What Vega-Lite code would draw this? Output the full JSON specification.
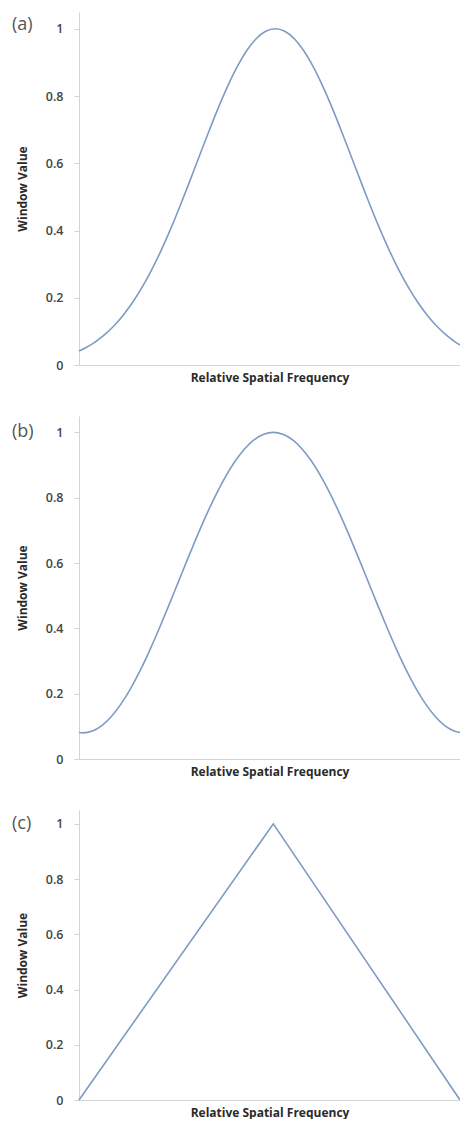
{
  "$schema": "https://vega.github.io/schema/vega-lite/v6.json",
  "background": "white",
  "padding": {"left": 12, "top": 12, "right": 0, "bottom": 1},
  "spacing": 33,
  "config": {
    "view": {"stroke": null},
    "font": "Open Sans",
    "axis": {
      "grid": false,
      "domainColor": "#d4d4d4",
      "tickColor": "#d4d4d4",
      "labelColor": "#444444",
      "titleColor": "#2a2a2a",
      "labelFont": "Open Sans",
      "titleFont": "Open Sans",
      "labelFontSize": 12.5,
      "labelFontWeight": 600,
      "titleFontSize": 12,
      "titleFontWeight": "bold"
    },
    "line": {"color": "#7d9bc4", "strokeWidth": 1.6, "clip": true},
    "text": {"align": "left", "baseline": "middle", "dx": -67, "fontSize": 18, "color": "#555555", "font": "Open Sans"}
  },
  "datasets": {
    "gauss": [
      {"f": -1.03, "w": 0.0415}, {"f": -1.0, "w": 0.0498}, {"f": -0.95, "w": 0.0667}, {"f": -0.9, "w": 0.088},
      {"f": -0.85, "w": 0.1145}, {"f": -0.8, "w": 0.1466}, {"f": -0.75, "w": 0.185}, {"f": -0.7, "w": 0.2299},
      {"f": -0.65, "w": 0.2815}, {"f": -0.6, "w": 0.3396}, {"f": -0.55, "w": 0.4035}, {"f": -0.5, "w": 0.4724},
      {"f": -0.45, "w": 0.5447}, {"f": -0.4, "w": 0.6188}, {"f": -0.35, "w": 0.6925}, {"f": -0.3, "w": 0.7634},
      {"f": -0.25, "w": 0.829}, {"f": -0.2, "w": 0.8869}, {"f": -0.15, "w": 0.9347}, {"f": -0.1, "w": 0.9704},
      {"f": -0.05, "w": 0.9925}, {"f": 0, "w": 1},
      {"f": 0.05, "w": 0.9925}, {"f": 0.1, "w": 0.9704}, {"f": 0.15, "w": 0.9347}, {"f": 0.2, "w": 0.8869},
      {"f": 0.25, "w": 0.829}, {"f": 0.3, "w": 0.7634}, {"f": 0.35, "w": 0.6925}, {"f": 0.4, "w": 0.6188},
      {"f": 0.45, "w": 0.5447}, {"f": 0.5, "w": 0.4724}, {"f": 0.55, "w": 0.4035}, {"f": 0.6, "w": 0.3396},
      {"f": 0.65, "w": 0.2815}, {"f": 0.7, "w": 0.2299}, {"f": 0.75, "w": 0.185}, {"f": 0.8, "w": 0.1466},
      {"f": 0.85, "w": 0.1145}, {"f": 0.9, "w": 0.088}, {"f": 0.95, "w": 0.0667}, {"f": 0.97, "w": 0.0594}
    ],
    "hamming": [
      {"f": -1.02, "w": 0.0809}, {"f": -1.0, "w": 0.08}, {"f": -0.95, "w": 0.0857}, {"f": -0.9, "w": 0.1025},
      {"f": -0.85, "w": 0.1301}, {"f": -0.8, "w": 0.1679}, {"f": -0.75, "w": 0.2147}, {"f": -0.7, "w": 0.2696},
      {"f": -0.65, "w": 0.3312}, {"f": -0.6, "w": 0.3979}, {"f": -0.55, "w": 0.468}, {"f": -0.5, "w": 0.54},
      {"f": -0.45, "w": 0.612}, {"f": -0.4, "w": 0.6821}, {"f": -0.35, "w": 0.7488}, {"f": -0.3, "w": 0.8104},
      {"f": -0.25, "w": 0.8653}, {"f": -0.2, "w": 0.9121}, {"f": -0.15, "w": 0.9499}, {"f": -0.1, "w": 0.9775},
      {"f": -0.05, "w": 0.9943}, {"f": 0, "w": 1},
      {"f": 0.05, "w": 0.9943}, {"f": 0.1, "w": 0.9775}, {"f": 0.15, "w": 0.9499}, {"f": 0.2, "w": 0.9121},
      {"f": 0.25, "w": 0.8653}, {"f": 0.3, "w": 0.8104}, {"f": 0.35, "w": 0.7488}, {"f": 0.4, "w": 0.6821},
      {"f": 0.45, "w": 0.612}, {"f": 0.5, "w": 0.54}, {"f": 0.55, "w": 0.468}, {"f": 0.6, "w": 0.3979},
      {"f": 0.65, "w": 0.3312}, {"f": 0.7, "w": 0.2696}, {"f": 0.75, "w": 0.2147}, {"f": 0.8, "w": 0.1679},
      {"f": 0.85, "w": 0.1301}, {"f": 0.9, "w": 0.1025}, {"f": 0.95, "w": 0.0857}, {"f": 0.98, "w": 0.0809}
    ],
    "triangle": [
      {"f": -1.0, "w": 0}, {"f": 0.02, "w": 1}, {"f": 1.0, "w": 0.0}
    ]
  },
  "vconcat": [
    {
      "width": 381,
      "height": 353,
      "layer": [
        {
          "data": {"name": "gauss"},
          "mark": {"type": "line", "interpolate": "monotone"},
          "encoding": {
            "x": {"field": "f", "type": "quantitative", "scale": {"domain": [-1.03, 0.97], "nice": false, "zero": false},
                  "axis": {"title": "Relative Spatial Frequency", "labels": false, "ticks": false, "titlePadding": 7}},
            "y": {"field": "w", "type": "quantitative", "scale": {"domain": [0, 1.05], "nice": false},
                  "axis": {"title": "Window Value", "values": [0, 0.2, 0.4, 0.6, 0.8, 1], "format": "~g", "tickSize": 5, "labelPadding": 11, "titlePadding": 16}}
          }
        },
        {
          "data": {"values": [{"label": "(a)", "f": -1.03, "w": 1}]},
          "mark": {"type": "text", "dy": -4},
          "encoding": {
            "x": {"field": "f", "type": "quantitative"},
            "y": {"field": "w", "type": "quantitative"},
            "text": {"field": "label"}
          }
        }
      ]
    },
    {
      "width": 381,
      "height": 343,
      "layer": [
        {
          "data": {"name": "hamming"},
          "mark": {"type": "line", "interpolate": "monotone"},
          "encoding": {
            "x": {"field": "f", "type": "quantitative", "scale": {"domain": [-1.02, 0.98], "nice": false, "zero": false},
                  "axis": {"title": "Relative Spatial Frequency", "labels": false, "ticks": false, "titlePadding": 7}},
            "y": {"field": "w", "type": "quantitative", "scale": {"domain": [0, 1.05], "nice": false},
                  "axis": {"title": "Window Value", "values": [0, 0.2, 0.4, 0.6, 0.8, 1], "format": "~g", "tickSize": 5, "labelPadding": 11, "titlePadding": 16}}
          }
        },
        {
          "data": {"values": [{"label": "(b)", "f": -1.02, "w": 1}]},
          "mark": {"type": "text"},
          "encoding": {
            "x": {"field": "f", "type": "quantitative"},
            "y": {"field": "w", "type": "quantitative"},
            "text": {"field": "label"}
          }
        }
      ]
    },
    {
      "width": 381,
      "height": 290,
      "layer": [
        {
          "data": {"name": "triangle"},
          "mark": {"type": "line"},
          "encoding": {
            "x": {"field": "f", "type": "quantitative", "scale": {"domain": [-1.0, 1.0], "nice": false, "zero": false},
                  "axis": {"title": "Relative Spatial Frequency", "labels": false, "ticks": false, "titlePadding": 7}},
            "y": {"field": "w", "type": "quantitative", "scale": {"domain": [0, 1.05], "nice": false},
                  "axis": {"title": "Window Value", "values": [0, 0.2, 0.4, 0.6, 0.8, 1], "format": "~g", "tickSize": 5, "labelPadding": 11, "titlePadding": 16}}
          }
        },
        {
          "data": {"values": [{"label": "(c)", "f": -1.0, "w": 1}]},
          "mark": {"type": "text"},
          "encoding": {
            "x": {"field": "f", "type": "quantitative"},
            "y": {"field": "w", "type": "quantitative"},
            "text": {"field": "label"}
          }
        }
      ]
    }
  ]
}
